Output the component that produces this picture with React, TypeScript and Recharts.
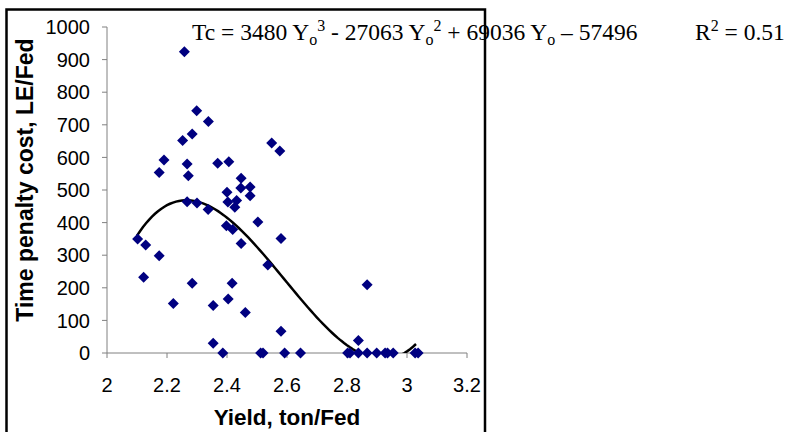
import { ScatterChart, Scatter, XAxis, YAxis } from 'recharts';

// yield (ton/Fed) and time penalty cost (LE/Fed)
const yieldTon = [
  2.258, 2.299, 2.338, 2.284, 2.252, 2.19, 2.174, 2.267, 2.271, 2.369,
  2.406, 2.549, 2.576, 2.447, 2.477, 2.446, 2.4, 2.477, 2.403, 2.432,
  2.426, 2.267, 2.3, 2.337, 2.398, 2.419, 2.503, 2.447, 2.58, 2.102,
  2.129, 2.174, 2.122, 2.284, 2.221, 2.354, 2.404, 2.417, 2.461, 2.536,
  2.354, 2.386, 2.512, 2.52, 2.592, 2.645, 2.58, 2.802, 2.81, 2.838,
  2.838, 2.867, 2.867, 2.899, 2.927, 2.935, 2.954, 3.027, 3.037,
];
const penaltyCost = [
  924, 743, 710, 672, 652, 592, 554, 580, 544, 582,
  587, 644, 620, 536, 509, 506, 493, 482, 463, 468,
  447, 464, 460, 440, 390, 379, 402, 336, 351, 350,
  331, 298, 232, 214, 152, 146, 166, 214, 124, 270,
  30, 0, 0, 0, 0, 0, 67, 0, 0, 38,
  0, 209, 0, 0, 0, 0, 0, 0, 0,
];

// polynomial trendline shown on the chart: Tc = 3480 Y^3 - 27063 Y^2 + 69036 Y - 57496
const trendCoef = [3480, -27063, 69036, -57496];
const trendRange = [2.1, 3.03];

const xTicks = [2, 2.2, 2.4, 2.6, 2.8, 3, 3.2];
const yTicks = [0, 100, 200, 300, 400, 500, 600, 700, 800, 900, 1000];

const points = yieldTon.map((x, i) => ({ x, y: penaltyCost[i] }));

const trend: { x: number; y: number }[] = [];
for (let k = 0; ; k++) {
  const x = trendRange[0] + k * 0.01;
  if (x > trendRange[1] + 1e-9) break;
  const y = trendCoef[0] * x ** 3 + trendCoef[1] * x ** 2 + trendCoef[2] * x + trendCoef[3];
  trend.push({ x, y });
}

const Diamond = (props: any) => {
  const { cx, cy } = props;
  const r = 5.5;
  return (
    <polygon
      points={`${cx},${cy - r} ${cx + r},${cy} ${cx},${cy + r} ${cx - r},${cy}`}
      fill="#000080"
    />
  );
};

const tickStyle = { fill: '#000', fontSize: 20, fontFamily: 'Liberation Sans, Arial, sans-serif' };
const axisGray = '#808080';

export default function App() {
  return (
    <div style={{ position: 'absolute', left: 0, top: 0, width: 787, height: 432, background: '#fff' }}>
      <ScatterChart width={787} height={432} margin={{ top: 27, right: 320, bottom: 49, left: 47 }}>
        <rect x={6.5} y={9.5} width={478.5} height={460} fill="none" stroke="#000" strokeWidth={2.5} />
        <XAxis
          dataKey="x"
          type="number"
          domain={[2, 3.2]}
          ticks={xTicks}
          interval={0}
          height={30}
          tick={tickStyle}
          tickSize={5}
          tickMargin={20}
          axisLine={{ stroke: axisGray }}
          tickLine={{ stroke: axisGray }}
        />
        <YAxis
          yAxisId="a"
          dataKey="y"
          type="number"
          domain={[0, 1000]}
          ticks={yTicks}
          interval={0}
          width={60}
          tick={tickStyle}
          tickSize={5}
          tickMargin={12}
          axisLine={{ stroke: axisGray }}
          tickLine={{ stroke: axisGray }}
        />
        <YAxis yAxisId="t" dataKey="y" type="number" domain={[0, 1000]} allowDataOverflow hide />
        <Scatter
          yAxisId="t"
          data={trend}
          line={{ stroke: '#000', strokeWidth: 2.5 }}
          shape={() => <g />}
          isAnimationActive={false}
        />
        <Scatter yAxisId="a" data={points} shape={Diamond} isAnimationActive={false} />
        <text
          x={287}
          y={425}
          textAnchor="middle"
          fontFamily="Liberation Sans, Arial, sans-serif"
          fontWeight="bold"
          fontSize={22.5}
        >
          Yield, ton/Fed
        </text>
        <text
          transform="translate(33,180) rotate(-90)"
          textAnchor="middle"
          fontFamily="Liberation Sans, Arial, sans-serif"
          fontWeight="bold"
          fontSize={23}
        >
          Time penalty cost, LE/Fed
        </text>
        <text x={192} y={40} fontFamily="Liberation Serif, Times New Roman, serif" fontSize={23.5}>
          Tc = 3480 Y<tspan fontSize={16} dy={5}>o</tspan>
          <tspan fontSize={16} dy={-14}>3</tspan>
          <tspan dy={9}> - 27063 Y</tspan>
          <tspan fontSize={16} dy={5}>o</tspan>
          <tspan fontSize={16} dy={-14}>2</tspan>
          <tspan dy={9}> + 69036 Y</tspan>
          <tspan fontSize={16} dy={5}>o</tspan>
          <tspan dy={-5}> – 57496</tspan>
        </text>
        <text x={695} y={40} fontFamily="Liberation Serif, Times New Roman, serif" fontSize={23.5}>
          R<tspan fontSize={16} dy={-9}>2</tspan>
          <tspan dy={9}> = 0.51</tspan>
        </text>
      </ScatterChart>
    </div>
  );
}
